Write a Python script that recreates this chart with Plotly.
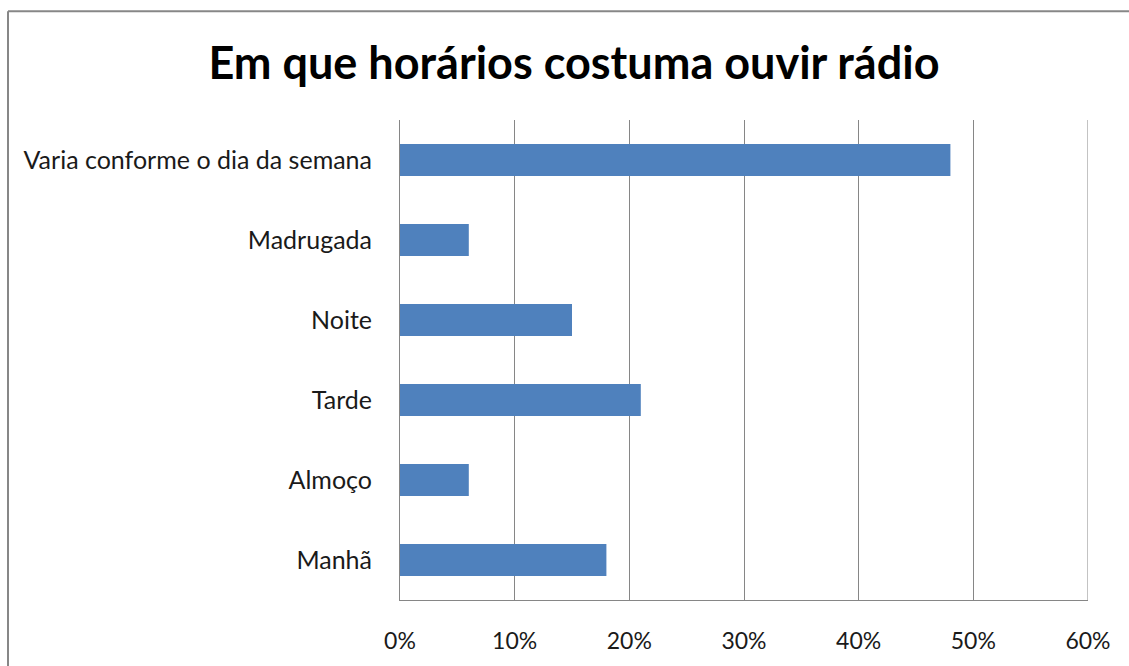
import plotly.graph_objects as go

# Listening-time categories (bottom to top) and share of respondents
categories = ["Manhã", "Almoço", "Tarde", "Noite", "Madrugada", "Varia conforme o dia da semana"]
shares = [0.18, 0.06, 0.21, 0.15, 0.06, 0.48]
tick_values = [0, 0.1, 0.2, 0.3, 0.4, 0.5, 0.6]
tick_labels = ["0%", "10%", "20%", "30%", "40%", "50%", "60%"]

title_text = "Em que horários costuma ouvir rádio"

FONT = "Lato, Carlito, Calibri, sans-serif"
W, H = 1129, 666
L, R, T, B = 400, 41, 120, 61
GRID = "#868686"

fig = go.Figure(
    go.Bar(
        x=shares,
        y=categories,
        orientation="h",
        width=0.4,
        marker=dict(color="#4F81BD", line=dict(width=0)),
        hoverinfo="skip",
    )
)

# plot-area width/height for converting pixel offsets into paper units
pw = W - L - R
ph = H - T - B


def px_x(px):
    return (px - L) / pw


def px_y(py):
    return (H - B - py) / ph


fig.update_layout(
    width=W,
    height=H,
    margin=dict(l=L, r=R, t=T, b=B),
    paper_bgcolor="white",
    plot_bgcolor="white",
    showlegend=False,
    title=dict(
        text=title_text,
        x=574 / W,
        xanchor="center",
        y=1 - 63 / H,
        yanchor="middle",
        font=dict(family=FONT, size=45, color="black", weight="bold"),
    ),
    xaxis=dict(
        range=[0, 0.6],
        tickvals=tick_values,
        ticktext=tick_labels,
        showgrid=True,
        gridcolor=GRID,
        gridwidth=1,
        showline=True,
        linecolor=GRID,
        linewidth=1,
        zeroline=False,
        ticks="",
        ticklabelstandoff=20,
        tickfont=dict(family=FONT, size=23, color="#1a1a1a"),
        fixedrange=True,
    ),
    yaxis=dict(
        categoryorder="array",
        categoryarray=categories,
        showgrid=False,
        showline=True,
        linecolor=GRID,
        linewidth=1,
        ticks="",
        ticklabelstandoff=22,
        tickfont=dict(family=FONT, size=25, color="#1a1a1a"),
        fixedrange=True,
    ),
)

# gridline at the top of the value range (at the plot-area edge)
fig.add_shape(
    type="line", xref="x", yref="paper",
    x0=tick_values[-1], x1=tick_values[-1], y0=0, y1=1,
    line=dict(color=GRID, width=1),
)

# outer chart frame (continues past the right and bottom edges)
fig.add_shape(
    type="line", xref="paper", yref="paper",
    x0=px_x(8), x1=px_x(W + 20), y0=px_y(10), y1=px_y(10),
    line=dict(color="#878787", width=2),
)
fig.add_shape(
    type="line", xref="paper", yref="paper",
    x0=px_x(8), x1=px_x(8), y0=px_y(10), y1=px_y(H + 20),
    line=dict(color="#878787", width=2),
)

fig.write_html("out.html")
